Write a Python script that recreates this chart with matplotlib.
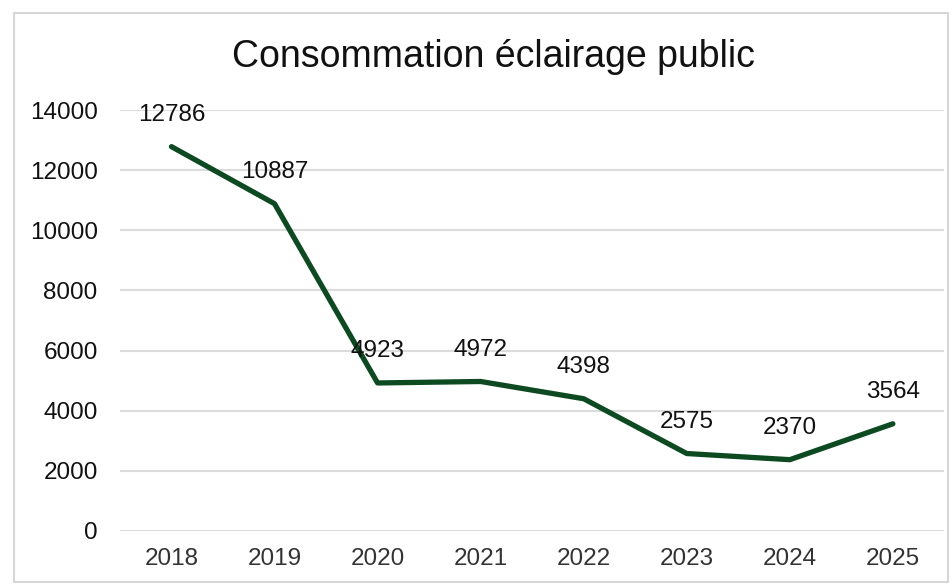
import matplotlib.pyplot as plt
from matplotlib.patches import Rectangle

plt.rcParams['font.family'] = ['Liberation Sans', 'DejaVu Sans']

# Data
years = ["2018", "2019", "2020", "2021", "2022", "2023", "2024", "2025"]
consumption = [12786, 10887, 4923, 4972, 4398, 2575, 2370, 3564]
y_ticks = [0, 2000, 4000, 6000, 8000, 10000, 12000, 14000]

fig = plt.figure(figsize=(9.52, 5.86), dpi=100)
ax = fig.add_axes([0.126, 0.094, 0.866, 0.718])

x = list(range(len(years)))
ax.plot(x, consumption, color="#0d4a22", linewidth=3.8, solid_joinstyle="round",
        solid_capstyle="round", zorder=3)

for xi, v in zip(x, consumption):
    ax.annotate(str(v), (xi, v), xytext=(0, 23), textcoords="offset points",
                ha="center", va="center", fontsize=17.5, color="#111111", zorder=4)

ax.set_xlim(-0.5, len(years) - 0.5)
ax.set_ylim(0, 14000)
ax.set_yticks(y_ticks)
ax.set_yticklabels([str(t) for t in y_ticks])
ax.set_xticks(x)
ax.set_xticklabels(years)
ax.tick_params(axis="y", length=0, pad=16, labelsize=17.5, labelcolor="#111111")
ax.tick_params(axis="x", length=0, pad=12, labelsize=17.5, labelcolor="#333333")
ax.grid(axis="y", color="#dcdcdc", linewidth=1.5)
ax.set_axisbelow(True)
for s in ax.spines.values():
    s.set_visible(False)

fig.text(0.518, 0.902, "Consommation éclairage public", ha="center", va="center",
         fontsize=27, color="#111111")

# outer chart frame
frame = Rectangle((14 / 952, 4 / 586), 934 / 952, 569 / 586, transform=fig.transFigure,
                  fill=False, edgecolor="#d6d6d6", linewidth=1.5)
fig.patches.append(frame)

plt.savefig("out.png", dpi=100)
